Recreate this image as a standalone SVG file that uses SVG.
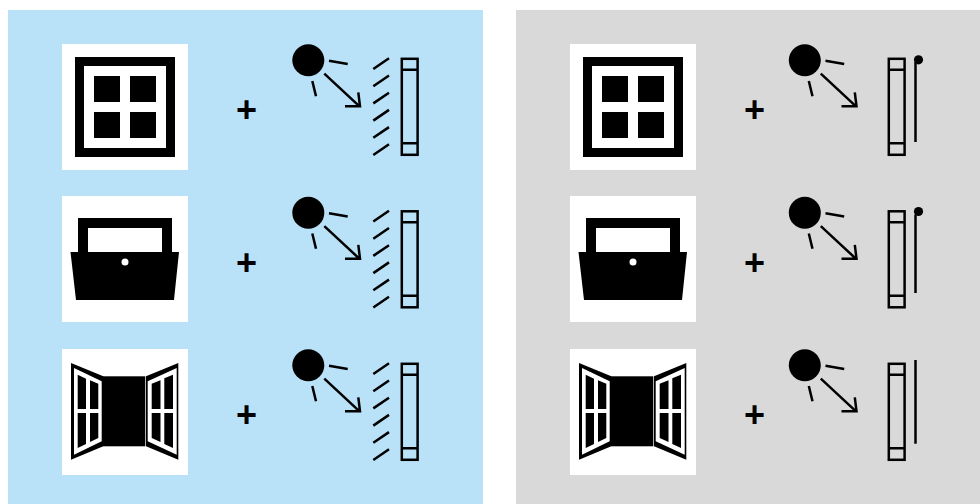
<svg xmlns="http://www.w3.org/2000/svg" width="980" height="504" viewBox="0 0 980 504">
<style>
.l{fill:none;stroke:#000;stroke-width:2.5}
.p{font-family:"Liberation Sans",Arial,sans-serif;font-weight:700;font-size:36px;text-anchor:middle;fill:#000}
</style>
<defs>
<g id="win1"><rect x="62" y="44" width="126" height="126" fill="#fff"/><path d="M75 57H175V157H75ZM84 66V148H166V66Z" fill-rule="evenodd"/><rect x="94" y="76" width="26" height="26"/><rect x="130" y="76" width="26" height="26"/><rect x="94" y="112" width="26" height="26"/><rect x="130" y="112" width="26" height="26"/></g>
<g id="win2"><rect x="62" y="196" width="126" height="126" fill="#fff"/><path d="M78 218H172V252H179L174 300H76L70.500 252H78ZM88 228V252H162V228Z" fill-rule="evenodd"/><circle cx="125" cy="262" r="3.500" fill="#fff"/></g>
<g id="win3"><rect x="62" y="349" width="126" height="126" fill="#fff"/><rect x="103" y="376.300" width="42.300" height="70"/>
<path d="M71 363L103.300 376.300V446.300L71 459.700Z"/><path d="M74 368L101.700 381.300V441.300L74 454.700Z" fill="#fff"/><path d="M77.700 374.700L86 378.700V409H77.700ZM90 380.300L98.300 383.700V409H90ZM77.700 413H86V444L77.700 448ZM90 413H98.300V438L90 442Z"/>
<path d="M178.300 363L146 376.300V446.300L178.300 459.700Z"/><path d="M176.700 368L147.700 381.300V441.300L176.700 454.700Z" fill="#fff"/><path d="M173 374.700L164.300 378.300V409H173ZM160.500 380.300L151.700 383.700V409H160.500ZM173 413H164.300V444L173 448ZM160.500 413H151.700V438L160.500 442Z"/></g>
<g id="sun"><circle cx="308.300" cy="60.300" r="16"/><path class="l" d="M329 60.700L347.700 64M312.300 81L316 96.300M324.300 73.700L359.500 106.300M345 106.300H360L358.300 92.300"/></g>
<g id="glass"><rect class="l" x="401.800" y="58.800" width="15.800" height="96"/><path class="l" d="M401.800 69.700H417.600M401.800 143.300H417.600"/></g>
<g id="hatch"><path class="l" d="M373.300 69L389 58.300M373.300 86.200L389 75.500M373.300 103.400L389 92.700M373.300 120.600L389 109.900M373.300 137.800L389 127.100M373.300 155L389 144.300"/></g>
</defs>
<rect id="panel-left" x="8" y="10" width="475" height="494" fill="#b9e1f7"/>
<rect id="panel-right" x="516" y="10" width="464" height="494" fill="#d9d9d9"/>
<g id="left-1"><use href="#win1"/></g>
<g id="left-2"><use href="#win2"/></g>
<g id="left-3"><use href="#win3"/></g>
<g id="right-1"><use href="#win1" x="508"/></g>
<g id="right-2"><use href="#win2" x="508"/></g>
<g id="right-3"><use href="#win3" x="508"/></g>
<g id="plus">
<text class="p" x="246.500" y="122">+</text><text class="p" x="246.500" y="275">+</text><text class="p" x="246.500" y="427">+</text>
<text class="p" x="754.500" y="122">+</text><text class="p" x="754.500" y="275">+</text><text class="p" x="754.500" y="427">+</text>
</g>
<g id="sun-left-1"><use href="#sun"/><use href="#hatch"/><use href="#glass"/></g>
<g id="sun-left-2"><use href="#sun" y="152.500"/><use href="#hatch" y="152.500"/><use href="#glass" y="152.500"/></g>
<g id="sun-left-3"><use href="#sun" y="305"/><use href="#hatch" y="305"/><use href="#glass" y="305"/></g>
<g id="sun-right-1"><use href="#sun" x="496.500"/><use href="#glass" x="487"/><path class="l" d="M915.500 62V142"/><circle cx="918.500" cy="59.800" r="4.600"/></g>
<g id="sun-right-2"><use href="#sun" x="496.500" y="152.500"/><use href="#glass" x="487" y="152.500"/><path class="l" d="M915.500 214.500V293"/><circle cx="918.500" cy="211.500" r="4.600"/></g>
<g id="sun-right-3"><use href="#sun" x="496.500" y="305"/><use href="#glass" x="487" y="305"/><path class="l" d="M915.500 360V443.700"/></g>
</svg>
